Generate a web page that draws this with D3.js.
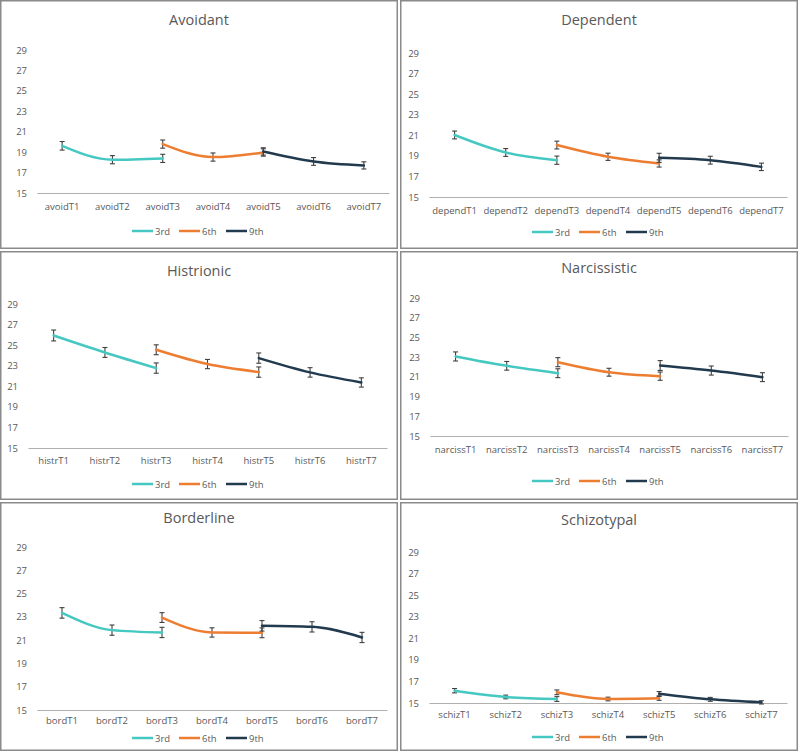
<!DOCTYPE html>
<html>
<head>
<meta charset="utf-8">
<script src="https://cdn.jsdelivr.net/npm/d3@7"></script>
<style>
  html, body { margin: 0; padding: 0; background: #fff; }
  svg { display: block; }
  text { font-family: "Open Sans", "Liberation Sans", sans-serif; fill: #595959; }
</style>
</head>
<body>
<svg id="chart" width="800" height="752"></svg>
<script>
// ---------------- DATA ----------------
const titles = ["Avoidant", "Dependent", "Histrionic", "Narcissistic", "Borderline", "Schizotypal"];
const prefixes = ["avoid", "depend", "histr", "narciss", "bord", "schiz"];
const timePoints = ["T1", "T2", "T3", "T4", "T5", "T6", "T7"];
const grades = ["3rd", "6th", "9th"];
const gradeStartIndex = [0, 2, 4];   // first time point measured by each grade cohort
const yTicks = [15, 17, 19, 21, 23, 25, 27, 29];

// means (3 time points per grade cohort), one row per disorder
const mean3rd = [
  [19.62, 18.26, 18.39],
  [21.03, 19.33, 18.58],
  [25.94, 24.29, 22.77],
  [23.07, 22.12, 21.37],
  [23.34, 21.86, 21.66],
  [16.14, 15.56, 15.37]
];
const mean6th = [
  [19.79, 18.52, 18.97],
  [20.05, 18.91, 18.26],
  [24.55, 23.16, 22.38],
  [22.49, 21.47, 21.07],
  [22.94, 21.66, 21.63],
  [15.99, 15.37, 15.43]
];
const mean9th = [
  [19.07, 18.09, 17.70],
  [18.81, 18.58, 17.93],
  [23.74, 22.35, 21.37],
  [22.15, 21.64, 20.97],
  [22.23, 22.14, 21.23],
  [15.86, 15.34, 15.06]
];
// error bar half-widths
const err3rd = [
  [0.42, 0.40, 0.40],
  [0.38, 0.38, 0.40],
  [0.53, 0.48, 0.50],
  [0.46, 0.44, 0.45],
  [0.45, 0.44, 0.44],
  [0.20, 0.17, 0.22]
];
const err6th = [
  [0.40, 0.40, 0.36],
  [0.38, 0.35, 0.35],
  [0.48, 0.45, 0.50],
  [0.46, 0.40, 0.42],
  [0.42, 0.40, 0.42],
  [0.22, 0.17, 0.18]
];
const err9th = [
  [0.36, 0.38, 0.35],
  [0.44, 0.38, 0.36],
  [0.50, 0.46, 0.45],
  [0.50, 0.46, 0.45],
  [0.45, 0.44, 0.44],
  [0.20, 0.18, 0.15]
];

// ---------------- LAYOUT / STYLE ----------------
const gradeColors = ["#45C8C1", "#ED7D31", "#223A4E"];
const panelLayout = [
  { x0: 0,   y0: 0,   w: 398, h: 249, left: 37,  right: 389, yBottom: 193, yTop: 50,  titleY: 19,  xLabY: 207, legY: 231 },
  { x0: 400, y0: 0,   w: 398, h: 249, left: 429, right: 787, yBottom: 197, yTop: 53,  titleY: 19,  xLabY: 211, legY: 232 },
  { x0: 0,   y0: 251, w: 398, h: 249, left: 28,  right: 387, yBottom: 448, yTop: 304, titleY: 270, xLabY: 461, legY: 484 },
  { x0: 400, y0: 251, w: 398, h: 249, left: 430, right: 788, yBottom: 436, yTop: 298, titleY: 267, xLabY: 450, legY: 481 },
  { x0: 0,   y0: 502, w: 398, h: 249, left: 37,  right: 387, yBottom: 710, yTop: 547, titleY: 517, xLabY: 721, legY: 738 },
  { x0: 400, y0: 502, w: 398, h: 249, left: 429, right: 787, yBottom: 703, yTop: 552, titleY: 519, xLabY: 715, legY: 737 }
];

const svg = d3.select("#chart");
const means = [mean3rd, mean6th, mean9th];
const errs = [err3rd, err6th, err9th];

titles.forEach((title, p) => {
  const L = panelLayout[p];
  const g = svg.append("g");

  // panel border
  g.append("rect")
    .attr("x", L.x0 + 0.75).attr("y", L.y0 + 0.75)
    .attr("width", L.w - 1.5).attr("height", L.h - 1.5)
    .attr("fill", "#fff").attr("stroke", "#8a8a8a").attr("stroke-width", 1.5);

  const cats = timePoints.map(t => prefixes[p] + t);
  const x = d3.scaleBand().domain(cats).range([L.left, L.right]);
  const y = d3.scaleLinear().domain([15, 29]).range([L.yBottom, L.yTop]);

  // title
  g.append("text")
    .attr("x", L.x0 + L.w / 2).attr("y", L.titleY)
    .attr("text-anchor", "middle").attr("dominant-baseline", "central")
    .style("font-size", "14.5px")
    .text(title);

  // y axis labels (no axis line)
  const yAxis = d3.axisLeft(y).tickValues(yTicks).tickSize(0).tickPadding(10);
  const ya = g.append("g").attr("transform", `translate(${L.left},0)`).call(yAxis);
  ya.select(".domain").remove();
  ya.selectAll("text").style("font-size", "9.5px").style("font-family", "'Open Sans', sans-serif").attr("fill", "#595959");

  // x axis
  const xAxis = d3.axisBottom(x).tickSize(0).tickPadding(0);
  const xa = g.append("g").attr("transform", `translate(0,${L.yBottom})`).call(xAxis);
  xa.select(".domain").attr("stroke", "#b0b0b0").attr("stroke-width", 1.2);
  xa.selectAll("text")
    .attr("y", L.xLabY - L.yBottom).attr("dy", "0.35em")
    .style("font-size", "9.5px").style("font-family", "'Open Sans', sans-serif").attr("fill", "#595959");

  const line = d3.line()
    .x(d => x(d.cat) + x.bandwidth() / 2)
    .y(d => y(d.v))
    .curve(d3.curveMonotoneX);

  grades.forEach((gr, gi) => {
    const pts = means[gi][p].map((v, k) => ({
      cat: cats[gradeStartIndex[gi] + k], v: v, e: errs[gi][p][k]
    }));
    // error bars
    const eb = g.append("g").attr("stroke", "#404040").attr("stroke-width", 1.1).attr("fill", "none");
    pts.forEach(d => {
      const cx = x(d.cat) + x.bandwidth() / 2;
      eb.append("line").attr("x1", cx).attr("x2", cx).attr("y1", y(d.v - d.e)).attr("y2", y(d.v + d.e));
      eb.append("line").attr("x1", cx - 2.5).attr("x2", cx + 2.5).attr("y1", y(d.v - d.e)).attr("y2", y(d.v - d.e));
      eb.append("line").attr("x1", cx - 2.5).attr("x2", cx + 2.5).attr("y1", y(d.v + d.e)).attr("y2", y(d.v + d.e));
    });
    g.append("path").datum(pts)
      .attr("d", line)
      .attr("fill", "none")
      .attr("stroke", gradeColors[gi])
      .attr("stroke-width", 2.5)
      .attr("stroke-linecap", "round");
  });

  // legend
  const itemW = 47;
  const legStart = L.x0 + L.w / 2 - 67;
  grades.forEach((gr, gi) => {
    const lx = legStart + gi * itemW;
    g.append("line")
      .attr("x1", lx).attr("x2", lx + 21)
      .attr("y1", L.legY).attr("y2", L.legY)
      .attr("stroke", gradeColors[gi]).attr("stroke-width", 2.5);
    g.append("text")
      .attr("x", lx + 23).attr("y", L.legY)
      .attr("dominant-baseline", "central")
      .style("font-size", "9.5px")
      .text(gr);
  });
});
</script>
</body>
</html>
